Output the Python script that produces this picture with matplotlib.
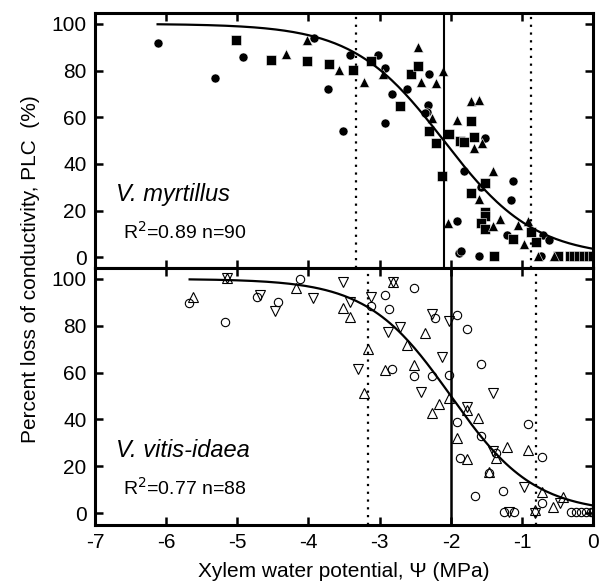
import numpy as np
import matplotlib
matplotlib.use('Agg')
import matplotlib.pyplot as plt

plt.rcParams['font.family'] = ['Liberation Sans', 'DejaVu Sans']
plt.rcParams['axes.unicode_minus'] = False

# V. myrtillus (filled symbols)
myr_circle_x = [-6.12, -5.32, -4.92, -3.92, -3.72, -3.52, -3.42, -3.02, -2.92, -2.82,
                -2.92, -2.61, -2.31, -2.32, -2.33, -2.37, -1.92, -1.88, -1.86, -1.82,
                -1.61, -1.57, -1.52, -1.16, -1.12, -1.21, -0.71, -0.62, -0.73]
myr_circle_y = [92, 77, 86, 94, 72, 54, 86.5, 86.5, 81, 70,
                57.4, 72, 78.3, 65.4, 62.3, 61.6, 15.3, 2, 2.6, 36.8,
                0.3, 30, 51.1, 24.4, 32.8, 9.7, 9.7, 7.3, 0.3]
myr_square_x = [-5.02, -4.52, -4.02, -3.71, -3.38, -3.12, -2.71, -2.56, -2.46, -2.31,
                -2.21, -2.12, -2.02, -1.87, -1.81, -1.71, -1.67, -1.72, -1.52, -1.52,
                -1.52, -1.57, -1.52, -1.39, -1.12, -0.87, -0.81, -0.50, -0.33, -0.27,
                -0.20, -0.13, -0.06, 0.0]
myr_square_y = [93, 84.3, 84, 83, 80.1, 84.1, 64.6, 78.5, 82.1, 54.2,
                49, 35, 52.6, 50, 49.5, 58.4, 51.5, 27.7, 31.9, 19.2,
                17.5, 14.6, 12.1, 0.3, 7.6, 10.7, 6.4, 0.3, 0.3, 0.3,
                0.3, 0.3, 0.3, 0.3]
myr_tri_x = [-4.31, -4.02, -3.57, -3.22, -2.96, -2.46, -2.42, -2.21, -2.11, -2.26,
             -2.04, -1.92, -1.71, -1.61, -1.67, -1.56, -1.41, -1.61, -1.41, -1.31,
             -1.06, -0.97, -0.91, -0.78, -0.55]
myr_tri_y = [87.2, 93, 80.3, 75.2, 78.7, 90, 75, 74.5, 79.7, 59.5,
             14.6, 58.7, 66.8, 67.4, 46.9, 49.1, 36.8, 25.1, 13.2, 16.3,
             13.9, 5.5, 15.3, 0.3, 0.3]

# V. vitis-idaea (open symbols)
vit_circle_x = [-5.68, -5.17, -4.72, -4.43, -4.12, -3.12, -2.92, -2.87, -2.82, -2.52,
                -2.22, -1.92, -1.77, -2.52, -2.27, -2.02, -1.57, -1.92, -1.87, -1.57,
                -0.92, -0.72, -1.37, -1.46, -1.66, -1.27, -0.72, -1.25, -1.11, -0.31,
                -0.24, -0.17, -0.10, -0.03, 0.0]
vit_circle_y = [89.9, 81.8, 92.2, 90.2, 99.9, 88.3, 93.3, 87, 61.5, 96,
                83.5, 84.6, 78.6, 58.5, 58.7, 59, 63.7, 39, 23.4, 32.9,
                37.9, 24.1, 25.8, 17, 7.4, 9.4, 4.1, 0.3, 0.3, 0.3,
                0.3, 0.3, 0.3, 0.3, 0.3]
vit_up_x = [-5.62, -5.15, -4.17, -3.52, -3.42, -2.81, -3.16, -2.92, -3.22, -2.61,
            -2.37, -2.52, -2.17, -2.27, -2.02, -1.77, -1.92, -1.77, -1.62, -1.21,
            -0.92, -1.37, -1.46, -0.72, -0.57, -0.42, -0.82]
vit_up_y = [92.4, 100.3, 96.3, 87.5, 83.6, 98.6, 70.1, 61.1, 51.2, 71.8,
            76.8, 63.2, 46.6, 42.9, 49.3, 44, 31.9, 22.9, 40.7, 28.3,
            26.9, 23.6, 17.5, 9.1, 2.7, 6.7, 1.5]
vit_down_x = [-5.15, -4.68, -4.47, -3.93, -3.52, -3.42, -3.12, -2.81, -2.88, -2.72,
              -3.31, -2.27, -2.02, -2.12, -2.42, -1.77, -1.41, -1.41, -0.97, -0.46,
              -1.18, -0.82]
vit_down_y = [100.3, 93.2, 86.3, 91.7, 98.6, 90.3, 92.2, 98.6, 77.5, 79.3,
              61.4, 85, 82, 66.5, 51.6, 45.4, 51.2, 26.5, 11.2, 4.1,
              0.3, 0.0]

# fitted vulnerability curves: Psi50, slope (per MPa), drawn range; PLC12/PLC88 lines
myr_psi50, myr_slope, myr_range = -2.1, 1.566, (-6.12, 0.0)
myr_p88, myr_p12 = -3.33, -0.87
vit_psi50, vit_slope, vit_range = -2.0, 1.703, (-5.67, 0.0)
vit_p88, vit_p12 = -3.16, -0.80

xticks = [-7, -6, -5, -4, -3, -2, -1, 0]
yticks = [0, 20, 40, 60, 80, 100]


def plc_curve(psi50, slope, xr):
    x = np.linspace(xr[0], xr[1], 200)
    return x, 100.0 / (1.0 + np.exp(slope * (x - psi50)))


def style_axes(ax, ylim):
    ax.set_xlim(-7, 0)
    ax.set_ylim(*ylim)
    ax.set_xticks(xticks)
    ax.set_yticks(yticks)
    ax.tick_params(direction='in', top=True, right=True, length=6, width=1.8,
                   labelsize=15, pad=6)
    for s in ax.spines.values():
        s.set_linewidth(2.2)


fig = plt.figure(figsize=(6.01, 5.85), dpi=100)
ax1 = fig.add_axes([0.158, 0.542, 0.829, 0.436])
ax2 = fig.add_axes([0.158, 0.103, 0.829, 0.439], sharex=ax1)

# top panel
style_axes(ax1, (-4.6, 104.7))
ax1.tick_params(labelbottom=False)
ax1.plot(myr_circle_x, myr_circle_y, 'o', color='black', ms=6.5, mec='white', mew=0.4)
ax1.plot(myr_square_x, myr_square_y, 's', color='black', ms=6.5, mec='white', mew=0.4)
ax1.plot(myr_tri_x, myr_tri_y, '^', color='black', ms=7, mec='white', mew=0.4)
cx, cy = plc_curve(myr_psi50, myr_slope, myr_range)
ax1.plot(cx, cy, color='black', lw=1.6)
ax1.axvline(myr_psi50, color='black', lw=1.5)
ax1.axvline(myr_p88, color='black', lw=1.6, ls=(0, (1, 2.5)))
ax1.axvline(myr_p12, color='black', lw=1.6, ls=(0, (1, 2.5)))
ax1.text(-6.7, 24, 'V. myrtillus', fontsize=17, style='italic')
ax1.text(-6.6, 8, r'R$^2$=0.89 n=90', fontsize=14)

# bottom panel
style_axes(ax2, (-5, 104.7))
ax2.plot(vit_circle_x, vit_circle_y, 'o', mfc='none', mec='black', ms=6, mew=0.8)
ax2.plot(vit_up_x, vit_up_y, '^', mfc='none', mec='black', ms=6.5, mew=0.8)
ax2.plot(vit_down_x, vit_down_y, 'v', mfc='none', mec='black', ms=6.5, mew=0.8)
cx, cy = plc_curve(vit_psi50, vit_slope, vit_range)
ax2.plot(cx, cy, color='black', lw=1.6)
ax2.axvline(vit_psi50, color='black', lw=1.8)
ax2.axvline(vit_p88, color='black', lw=1.6, ls=(0, (1, 2.5)))
ax2.axvline(vit_p12, color='black', lw=1.6, ls=(0, (1, 2.5)))
ax2.text(-6.7, 24, 'V. vitis-idaea', fontsize=17, style='italic')
ax2.text(-6.6, 8, r'R$^2$=0.77 n=88', fontsize=14)

ax2.set_xlabel('Xylem water potential, \u03a8 (MPa)', fontsize=15, labelpad=7)
fig.text(0.05, 0.54, 'Percent loss of conductivity, PLC  (%)', rotation=90,
         fontsize=15, ha='center', va='center')

fig.savefig('out.png', dpi=100)
